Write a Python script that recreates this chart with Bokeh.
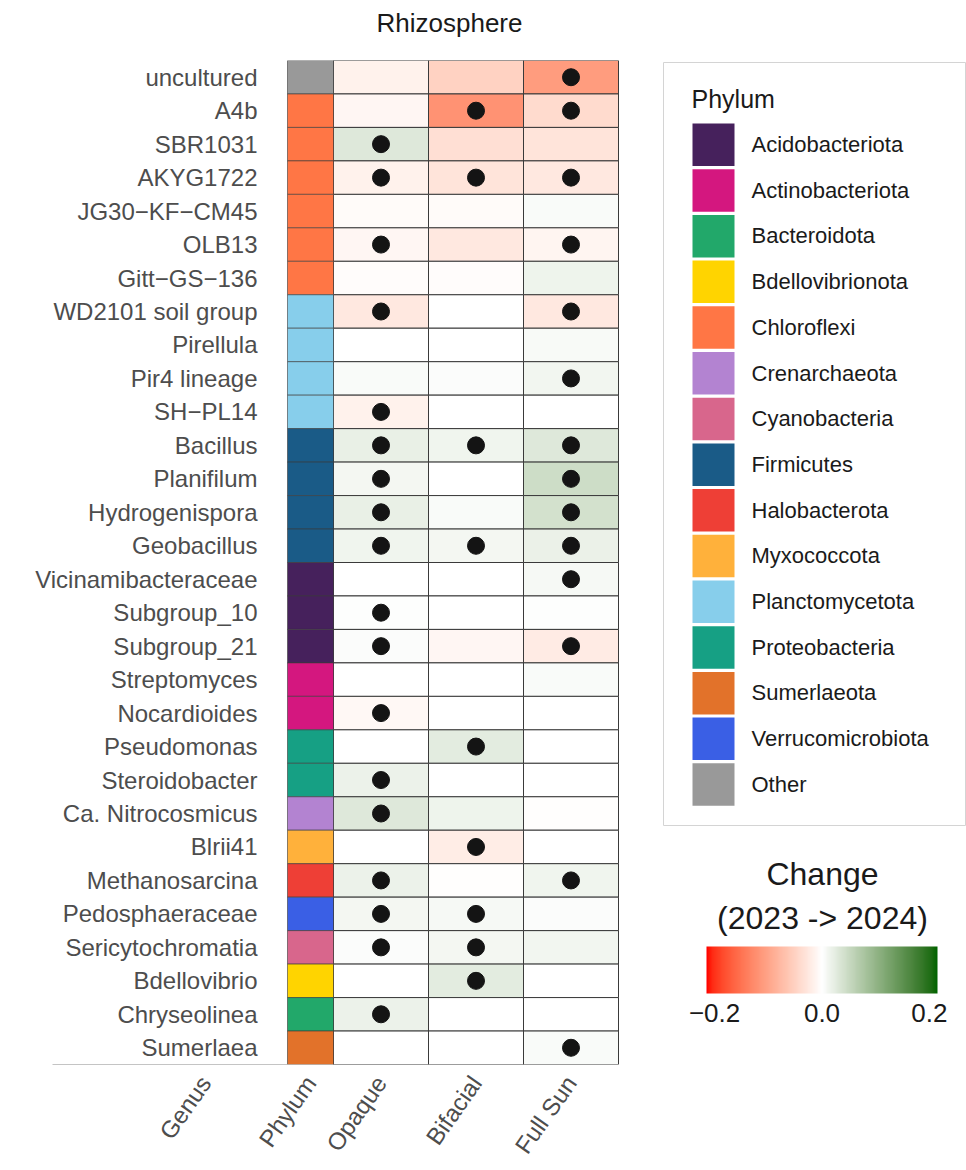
import numpy as np
from bokeh.plotting import figure
from bokeh.models import (ColumnDataSource, FactorRange, Range1d, LinearColorMapper,
                          ColorBar, FixedTicker)
from bokeh.layouts import row, column
from bokeh.transform import transform
from bokeh.core.properties import value
from bokeh.embed import file_html
from bokeh.resources import INLINE

# ---------------- data ----------------
genera = ["uncultured", "A4b", "SBR1031", "AKYG1722", "JG30\u2212KF\u2212CM45", "OLB13",
          "Gitt\u2212GS\u2212136", "WD2101 soil group", "Pirellula", "Pir4 lineage", "SH\u2212PL14",
          "Bacillus", "Planifilum", "Hydrogenispora", "Geobacillus", "Vicinamibacteraceae",
          "Subgroup_10", "Subgroup_21", "Streptomyces", "Nocardioides", "Pseudomonas",
          "Steroidobacter", "Ca. Nitrocosmicus", "Blrii41", "Methanosarcina",
          "Pedosphaeraceae", "Sericytochromatia", "Bdellovibrio", "Chryseolinea", "Sumerlaea"]
genus_phylum = ["Other", "Chloroflexi", "Chloroflexi", "Chloroflexi", "Chloroflexi", "Chloroflexi",
                "Chloroflexi", "Planctomycetota", "Planctomycetota", "Planctomycetota",
                "Planctomycetota", "Firmicutes", "Firmicutes", "Firmicutes", "Firmicutes",
                "Acidobacteriota", "Acidobacteriota", "Acidobacteriota", "Actinobacteriota",
                "Actinobacteriota", "Proteobacteria", "Proteobacteria", "Crenarchaeota",
                "Myxococcota", "Halobacterota", "Verrucomicrobiota", "Cyanobacteria",
                "Bdellovibrionota", "Bacteroidota", "Sumerlaeota"]
treatments = ["Opaque", "Bifacial", "Full Sun"]
change_opaque = [-0.015, -0.01, 0.03, -0.015, -0.005, -0.01, -0.003, -0.025, 0.0, 0.005,
                 -0.015, 0.02, 0.01, 0.02, 0.014, 0.0, 0.002, 0.004, 0.0, -0.008,
                 0.0, 0.017, 0.03, 0.0, 0.017, 0.01, 0.004, 0.0, 0.017, 0.0]
change_bifacial = [-0.05, -0.12, -0.035, -0.03, -0.005, -0.025, -0.003, 0.0, 0.0, 0.004,
                   0.0, 0.014, 0.0, 0.005, 0.01, 0.0, 0.0, -0.01, 0.0, 0.0,
                   0.026, 0.0, 0.015, -0.02, -0.002, 0.009, 0.01, 0.026, 0.0, 0.0]
change_fullsun = [-0.11, -0.04, -0.03, -0.025, 0.005, -0.012, 0.015, -0.025, 0.007, 0.012,
                  0.0, 0.03, 0.045, 0.04, 0.018, 0.009, 0.002, -0.022, 0.005, 0.0,
                  0.0, 0.0, -0.002, 0.0, 0.013, 0.004, 0.012, 0.0, 0.0, 0.005]
sig_opaque = [0, 0, 1, 1, 0, 1, 0, 1, 0, 0, 1, 1, 1, 1, 1, 0, 1, 1, 0, 1, 0, 1, 1, 0, 1, 1, 1, 0, 1, 0]
sig_bifacial = [0, 1, 0, 1, 0, 0, 0, 0, 0, 0, 0, 1, 0, 0, 1, 0, 0, 0, 0, 0, 1, 0, 0, 1, 0, 1, 1, 1, 0, 0]
sig_fullsun = [1, 1, 0, 1, 0, 1, 0, 1, 0, 1, 0, 1, 1, 1, 1, 1, 0, 1, 0, 0, 0, 0, 0, 0, 1, 0, 0, 0, 0, 1]

phyla = ["Acidobacteriota", "Actinobacteriota", "Bacteroidota", "Bdellovibrionota", "Chloroflexi",
         "Crenarchaeota", "Cyanobacteria", "Firmicutes", "Halobacterota", "Myxococcota",
         "Planctomycetota", "Proteobacteria", "Sumerlaeota", "Verrucomicrobiota", "Other"]
phylum_colors = ["#46215C", "#D4177F", "#22A86A", "#FFD400", "#FF7645",
                 "#B383D1", "#D8668C", "#1A5B87", "#EE3F36", "#FFB13B",
                 "#87CEEB", "#16A084", "#E2722A", "#3A5FE5", "#999999"]
x_labels = ["Genus", "Phylum", "Opaque", "Bifacial", "Full Sun"]
cb_ticks = [-0.2, 0.0, 0.2]
cb_tick_labels = ["\u22120.2", "0.0", "0.2"]
limit = 0.215

FONT = "Liberation Sans"

# ---------------- colour scale (Lab interpolation red-white-darkgreen) ----------------
M = np.array([[0.4124, 0.3576, 0.1805], [0.2126, 0.7152, 0.0722], [0.0193, 0.1192, 0.9505]])
Minv = np.linalg.inv(M)
WHITE = np.array([0.95047, 1.0, 1.08883])


def hex2lab(h):
    c = np.array([int(h[i:i + 2], 16) / 255 for i in (1, 3, 5)])
    lin = np.where(c <= 0.04045, c / 12.92, ((c + 0.055) / 1.055) ** 2.4)
    xyz = M @ lin / WHITE
    f = np.where(xyz > 0.008856, np.cbrt(xyz), 7.787 * xyz + 16 / 116)
    return np.array([116 * f[1] - 16, 500 * (f[0] - f[1]), 200 * (f[1] - f[2])])


def lab2hex(lab):
    fy = (lab[0] + 16) / 116
    f = np.array([fy + lab[1] / 500, fy, fy - lab[2] / 200])
    xyz = np.where(f ** 3 > 0.008856, f ** 3, (f - 16 / 116) / 7.787) * WHITE
    lin = np.clip(Minv @ xyz, 0, 1)
    c = np.where(lin <= 0.0031308, 12.92 * lin, 1.055 * lin ** (1 / 2.4) - 0.055)
    c = np.clip(np.round(c * 255), 0, 255).astype(int)
    return "#%02x%02x%02x" % tuple(c)


lab_lo, lab_mid, lab_hi = hex2lab("#FF0000"), hex2lab("#FFFFFF"), hex2lab("#006400")
palette = []
N = 255
for k in range(N):
    t = -1 + 2 * k / (N - 1)
    if t < 0:
        palette.append(lab2hex(lab_mid + (lab_lo - lab_mid) * (-t)))
    else:
        palette.append(lab2hex(lab_mid + (lab_hi - lab_mid) * t))
mapper = LinearColorMapper(palette=palette, low=-limit, high=limit)

# ---------------- title strip ----------------
TOP, BOTTOM = 60, 106          # space above / below the heatmap frame (px)
t_fig = figure(width=966, height=TOP, x_range=Range1d(0, 966), y_range=Range1d(TOP, 0),
               output_backend="svg", toolbar_location=None, min_border=0)
t_fig.axis.visible = False
t_fig.grid.visible = False
t_fig.outline_line_color = None
t_fig.text(x=[449], y=[22], text=["Rhizosphere"], text_align="center", text_baseline="middle",
           text_font=value(FONT), text_font_size="26px", text_color="#1a1a1a")

# ---------------- main heatmap ----------------
PX = 95.0                      # pixels per treatment column
phy_w = 46 / PX                # phylum column width
phy_left = 0.5 - phy_w
phy_c = phy_left + phy_w / 2
genus_tick = phy_left - 82 / PX
x_ticks = [genus_tick, phy_c, 1.0, 2.0, 3.0]

p = figure(width=640, height=1170 - TOP, title=None,
           x_range=Range1d(phy_left - 287 / PX, phy_left + 353 / PX),
           y_range=FactorRange(factors=genera[::-1], range_padding=0),
           output_backend="svg", toolbar_location=None,
           min_border_left=0, min_border_right=0, min_border_top=0, min_border_bottom=BOTTOM)

xs, ys, vs = [], [], []
dx, dy = [], []
for j, (vals, sig) in enumerate(zip([change_opaque, change_bifacial, change_fullsun],
                                    [sig_opaque, sig_bifacial, sig_fullsun])):
    for g, v, s in zip(genera, vals, sig):
        xs.append(j + 1.0)
        ys.append(g)
        vs.append(v)
        if s:
            dx.append(j + 1.0)
            dy.append(g)

cells = ColumnDataSource(dict(x=xs, y=ys, v=vs))
p.rect(x="x", y="y", width=1, height=1, source=cells,
       fill_color=transform("v", mapper), line_color="#3a3a3a", line_width=1)

col_of = dict(zip(phyla, phylum_colors))
phy_src = ColumnDataSource(dict(x=[phy_c] * len(genera), y=genera,
                                c=[col_of[ph] for ph in genus_phylum]))
p.rect(x="x", y="y", width=phy_w, height=1, source=phy_src,
       fill_color="c", line_color="#3a3a3a", line_width=1, line_alpha=0.6)

p.scatter(x=dx, y=dy, size=17, color="#141414")

lab_src = ColumnDataSource(dict(x=[phy_left] * len(genera), y=genera, t=genera))
p.text(x="x", y="y", text="t", source=lab_src, x_offset=-30, text_align="right",
       text_baseline="middle", text_font=value(FONT), text_font_size="24px",
       text_color="#4d4d4d")

p.segment(x0=[phy_left - 235 / PX], x1=[phy_left], y0=[(genera[-1], -0.5)],
          y1=[(genera[-1], -0.5)], line_color="#8a8a8a", line_width=1)

p.yaxis.visible = False
p.grid.visible = False
p.outline_line_color = None
ax = p.xaxis[0]
ax.ticker = FixedTicker(ticks=x_ticks)
ax.major_label_overrides = {t: l for t, l in zip(x_ticks, x_labels)}
ax.major_label_orientation = np.deg2rad(55)
ax.major_label_text_font = FONT
ax.major_label_text_font_size = "24px"
ax.major_label_text_color = "#4d4d4d"
ax.major_label_standoff = 8
ax.axis_line_color = None
ax.major_tick_line_color = None
ax.minor_tick_line_color = None

# ---------------- legends panel (page-pixel coordinates) ----------------
q = figure(width=326, height=1170 - TOP, x_range=Range1d(640, 966),
           y_range=Range1d(1170 - BOTTOM, TOP),
           output_backend="svg", toolbar_location=None,
           min_border_left=0, min_border_right=0, min_border_top=0, min_border_bottom=BOTTOM)
q.axis.visible = False
q.grid.visible = False
q.outline_line_color = None

q.quad(left=[663], right=[965], top=[62], bottom=[825], fill_color=None,
       line_color="#d4d4d4", line_width=1)
q.text(x=[691], y=[98], text=["Phylum"], text_baseline="middle", text_font=value(FONT),
       text_font_size="25px", text_color="#1a1a1a")
tops = [123 + i * 45.7 for i in range(len(phyla))]
q.quad(left=[692] * len(phyla), right=[734] * len(phyla), top=tops,
       bottom=[t + 42.5 for t in tops], fill_color=phylum_colors, line_color=None)
q.text(x=[751] * len(phyla), y=[t + 21 for t in tops], text=phyla, text_baseline="middle",
       text_font=value(FONT), text_font_size="22px", text_color="#1a1a1a")

q.text(x=[822, 822], y=[873, 917], text=["Change", "(2023 -> 2024)"], text_align="center",
       text_baseline="middle", text_font=value(FONT), text_font_size="32px",
       text_color="#1a1a1a")

cb = ColorBar(color_mapper=mapper, orientation="horizontal", location=(66, 40),
              width=231, height=47, padding=0, title=None,
              ticker=FixedTicker(ticks=cb_ticks),
              major_label_overrides={t: l for t, l in zip(cb_ticks, cb_tick_labels)},
              major_label_text_font=FONT, major_label_text_font_size="26px",
              major_label_text_color="#1a1a1a", major_tick_line_color=None,
              minor_tick_line_color=None, label_standoff=10, bar_line_color=None,
              background_fill_color=None, border_line_color=None)
q.add_layout(cb)

layout = column(t_fig, row(p, q, spacing=0), spacing=0)
open("out.html", "w").write(file_html(layout, INLINE))
